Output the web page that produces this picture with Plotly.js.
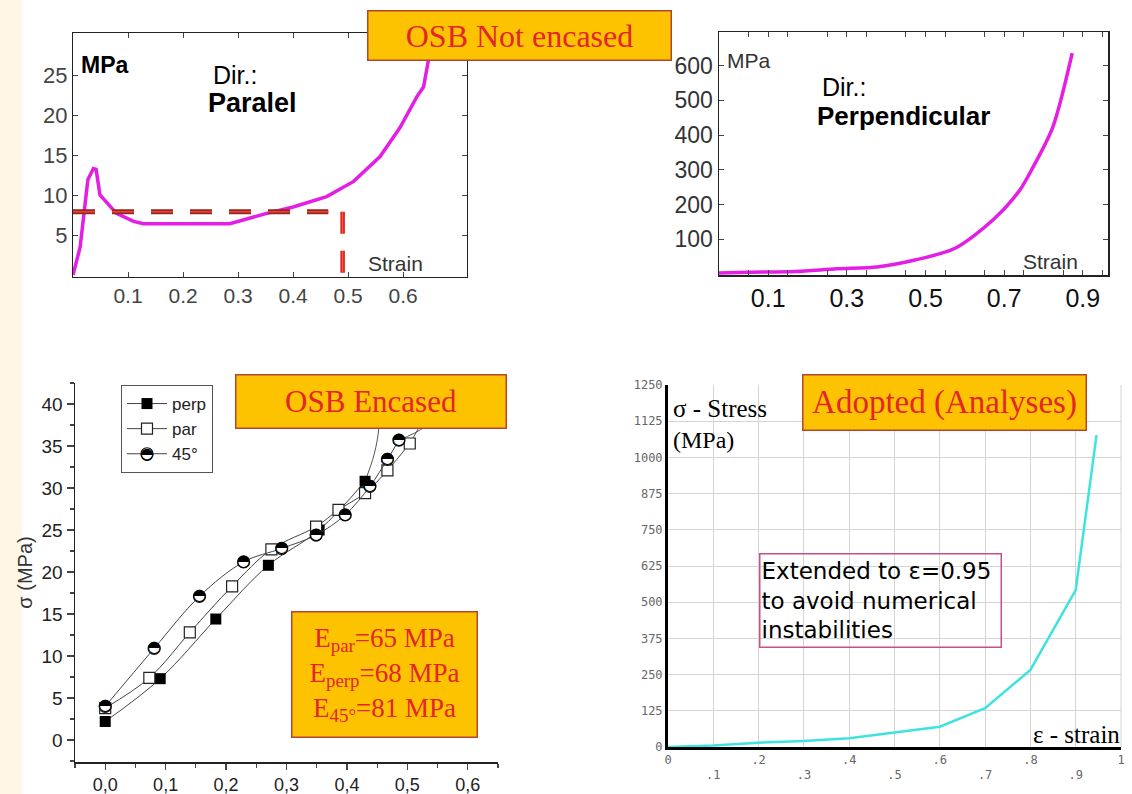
<!DOCTYPE html>
<html>
<head>
<meta charset="utf-8">
<script src="https://cdn.plot.ly/plotly-3.0.1.min.js"></script>
<style>html,body{margin:0;padding:0;background:#fff;}#chart{width:1132px;height:794px;}</style>
</head>
<body>
<div id="chart"></div>
<script>
// ---------- DATA ----------
// Panel 1: OSB not encased, parallel direction
const parStrain = [0, 0.013, 0.027, 0.037, 0.042, 0.049, 0.079, 0.11, 0.128, 0.2, 0.285, 0.352, 0.4, 0.461, 0.51, 0.558, 0.594, 0.625, 0.637, 0.646, 0.652];
const parStress = [0, 3.5, 11.9, 13.3, 13.2, 10, 7.7, 6.7, 6.4, 6.4, 6.4, 7.7, 8.5, 9.8, 11.7, 14.8, 18.4, 22.3, 23.5, 26.9, 31];
const plateauStress = 7.9;
const plateauEndStrain = 0.464;
const densifStrain = 0.49;
const p1XTicks = [0.1, 0.2, 0.3, 0.4, 0.5, 0.6];
const p1YTicks = [5, 10, 15, 20, 25];

// Panel 2: OSB not encased, perpendicular direction
const perpStrain = [-0.025, 0.05, 0.17, 0.275, 0.377, 0.473, 0.575, 0.672, 0.74, 0.774, 0.824, 0.873];
const perpStress = [3, 5, 7, 15, 20, 40, 74, 156, 242, 309, 424, 636];
const p2XTicks = [0.1, 0.3, 0.5, 0.7, 0.9];
const p2YTicks = [100, 200, 300, 400, 500, 600];

// Panel 3: OSB encased
const encPerpX = [0.0, 0.091, 0.183, 0.27, 0.354, 0.43];
const encPerpY = [2.2, 7.3, 14.4, 20.8, 25.0, 30.8];
const encPerpTailX = [0.445, 0.453, 0.452];
const encPerpTailY = [34, 37.3, 43];
const encParX = [0.0, 0.073, 0.14, 0.21, 0.275, 0.349, 0.386, 0.43, 0.467, 0.504];
const encParY = [3.8, 7.4, 12.8, 18.3, 22.7, 25.4, 27.4, 29.4, 32.1, 35.3];
const encParTailX = [0.52, 0.54];
const encParTailY = [37.3, 40];
const enc45X = [0.0, 0.081, 0.156, 0.229, 0.292, 0.349, 0.397, 0.438, 0.467, 0.486];
const enc45Y = [4.0, 10.9, 17.1, 21.2, 22.8, 24.4, 26.8, 30.2, 33.4, 35.7];
const enc45TailX = [0.529, 0.56];
const enc45TailY = [37.3, 40];
const p3XTicks = [0, 0.1, 0.2, 0.3, 0.4, 0.5, 0.6];
const p3XLabels = ['0,0', '0,1', '0,2', '0,3', '0,4', '0,5', '0,6'];
const seriesNames = ['perp', 'par', '45°'];

// Panel 4: adopted curve
const adoptStrain = [0, 0.1, 0.2, 0.3, 0.4, 0.5, 0.6, 0.7, 0.8, 0.9, 0.946];
const adoptStress = [0, 5, 15, 21, 30, 49, 70, 134, 266, 542, 1077];
const p4YTicks = [0, 125, 250, 375, 500, 625, 750, 875, 1000, 1125, 1250];
const p4XEven = [0, 0.2, 0.4, 0.6, 0.8, 1.0];
const p4XEvenLabels = ['0', '.2', '.4', '.6', '.8', '1'];
const p4XOdd = [0.1, 0.3, 0.5, 0.7, 0.9];
const p4XOddLabels = ['.1', '.3', '.5', '.7', '.9'];

// ---------- LAYOUT HELPERS ----------
const W = 1132, H = 794;
const fx = p => p / W;
const fy = p => 1 - p / H;

const magenta = '#e41ee4';
const boxFill = '#fdc300';
const boxBorder = '#b5452f';
const boxText = '#e3262b';
const serif = 'Liberation Serif, Times New Roman, serif';
const sans = 'Liberation Sans, Arial, sans-serif';
const halfCircle = '◓';

const traces = [
  // Panel 1
  {x: parStrain, y: parStress, xaxis: 'x', yaxis: 'y', mode: 'lines', line: {color: magenta, width: 3.5}, showlegend: false},
  {x: [0, plateauEndStrain], y: [plateauStress, plateauStress], xaxis: 'x', yaxis: 'y', mode: 'lines', line: {color: '#8e2a22', width: 5, dash: '22px,17px'}, showlegend: false},
  {x: [0, plateauEndStrain], y: [plateauStress, plateauStress], xaxis: 'x', yaxis: 'y', mode: 'lines', line: {color: '#ff3a30', width: 1.5, dash: '22px,17px'}, showlegend: false},
  {x: [densifStrain, densifStrain], y: [plateauStress, 0], xaxis: 'x', yaxis: 'y', mode: 'lines', line: {color: '#d8201c', width: 4.5, dash: '22px,17px'}, showlegend: false},
  {x: [densifStrain, densifStrain], y: [plateauStress, 0], xaxis: 'x', yaxis: 'y', mode: 'lines', line: {color: '#ff6a5a', width: 1, dash: '22px,17px'}, showlegend: false},
  // Panel 2
  {x: perpStrain, y: perpStress, xaxis: 'x2', yaxis: 'y2', mode: 'lines', line: {color: magenta, width: 3.5, shape: 'spline', smoothing: 0.8}, showlegend: false},
  // Panel 3 tails
  {x: [encPerpX[encPerpX.length - 1]].concat(encPerpTailX), y: [encPerpY[encPerpY.length - 1]].concat(encPerpTailY), xaxis: 'x3', yaxis: 'y3', mode: 'lines', line: {color: '#555', width: 1, shape: 'spline'}, showlegend: false},
  {x: [encParX[encParX.length - 1]].concat(encParTailX), y: [encParY[encParY.length - 1]].concat(encParTailY), xaxis: 'x3', yaxis: 'y3', mode: 'lines', line: {color: '#555', width: 1, shape: 'spline'}, showlegend: false},
  {x: [enc45X[enc45X.length - 1]].concat(enc45TailX), y: [enc45Y[enc45Y.length - 1]].concat(enc45TailY), xaxis: 'x3', yaxis: 'y3', mode: 'lines', line: {color: '#555', width: 1, shape: 'spline'}, showlegend: false},
  // Panel 3 series
  {x: encPerpX, y: encPerpY, name: seriesNames[0], xaxis: 'x3', yaxis: 'y3', mode: 'lines+markers', line: {color: '#444', width: 1, shape: 'spline'}, marker: {symbol: 'square', size: 11, color: '#000'}},
  {x: encParX, y: encParY, name: seriesNames[1], xaxis: 'x3', yaxis: 'y3', mode: 'lines+markers', line: {color: '#444', width: 1, shape: 'spline'}, marker: {symbol: 'square', size: 11, color: '#fff', line: {color: '#222', width: 1.2}}},
  {x: enc45X, y: enc45Y, name: seriesNames[2], xaxis: 'x3', yaxis: 'y3', mode: 'lines+markers', line: {color: '#444', width: 1, shape: 'spline'}, marker: {symbol: 'circle', size: 12, color: '#fff', line: {color: '#111', width: 1.2}}},
  {x: enc45X, y: enc45Y, xaxis: 'x3', yaxis: 'y3', mode: 'text', text: enc45X.map(() => halfCircle), textposition: 'middle center', textfont: {family: 'DejaVu Sans', size: 16, color: '#000'}, showlegend: false},
  // Panel 4
  {x: adoptStrain, y: adoptStress, xaxis: 'x4', yaxis: 'y4', mode: 'lines', line: {color: '#3fe3dd', width: 2.5}, showlegend: false},
  {x: [null], y: [null], xaxis: 'x5', yaxis: 'y4', mode: 'lines', showlegend: false}
];

const annotations = [
  // Panel 1 texts
  {xref: 'paper', yref: 'paper', x: fx(79), y: fy(65), xanchor: 'left', yanchor: 'middle', text: '<b>MPa</b>', showarrow: false, font: {family: sans, size: 23, color: '#000'}},
  {xref: 'paper', yref: 'paper', x: fx(211), y: fy(75), xanchor: 'left', yanchor: 'middle', text: 'Dir.:', showarrow: false, font: {family: sans, size: 25, color: '#000'}},
  {xref: 'paper', yref: 'paper', x: fx(206), y: fy(103), xanchor: 'left', yanchor: 'middle', text: '<b>Paralel</b>', showarrow: false, font: {family: sans, size: 27, color: '#000'}},
  {xref: 'paper', yref: 'paper', x: fx(366), y: fy(263), xanchor: 'left', yanchor: 'middle', text: 'Strain', showarrow: false, font: {family: sans, size: 21, color: '#333'}},
  // Panel 2 texts
  {xref: 'paper', yref: 'paper', x: fx(725), y: fy(61), xanchor: 'left', yanchor: 'middle', text: 'MPa', showarrow: false, font: {family: sans, size: 21, color: '#333'}},
  {xref: 'paper', yref: 'paper', x: fx(820), y: fy(87), xanchor: 'left', yanchor: 'middle', text: 'Dir.:', showarrow: false, font: {family: sans, size: 25, color: '#000'}},
  {xref: 'paper', yref: 'paper', x: fx(815), y: fy(116), xanchor: 'left', yanchor: 'middle', text: '<b>Perpendicular</b>', showarrow: false, font: {family: sans, size: 26, color: '#000'}},
  {xref: 'paper', yref: 'paper', x: fx(1021), y: fy(261), xanchor: 'left', yanchor: 'middle', text: 'Strain', showarrow: false, font: {family: sans, size: 21, color: '#333'}},
  // Title boxes
  {xref: 'paper', yref: 'paper', x: fx(519), y: fy(35), xanchor: 'center', yanchor: 'middle', text: 'OSB Not encased', showarrow: false,
   font: {family: serif, size: 32, color: boxText}, bgcolor: boxFill, bordercolor: boxBorder, borderwidth: 1.5, borderpad: 1, width: 300, height: 46},
  {xref: 'paper', yref: 'paper', x: fx(371), y: fy(401), xanchor: 'center', yanchor: 'middle', text: 'OSB Encased', showarrow: false,
   font: {family: serif, size: 31, color: boxText}, bgcolor: boxFill, bordercolor: boxBorder, borderwidth: 1.5, borderpad: 1, width: 267, height: 50},
  {xref: 'paper', yref: 'paper', x: fx(384), y: fy(674), xanchor: 'center', yanchor: 'middle',
   text: 'E<sub>par</sub>=65 MPa<br>E<sub>perp</sub>=68 MPa<br>E<sub>45°</sub>=81 MPa', showarrow: false,
   font: {family: serif, size: 27, color: boxText}, bgcolor: boxFill, bordercolor: boxBorder, borderwidth: 1.5, borderpad: 1, width: 182, height: 122},
  {xref: 'paper', yref: 'paper', x: fx(944), y: fy(402), xanchor: 'center', yanchor: 'middle', text: 'Adopted (Analyses)', showarrow: false,
   font: {family: serif, size: 33, color: boxText}, bgcolor: boxFill, bordercolor: boxBorder, borderwidth: 1.5, borderpad: 1, width: 280, height: 52},
  // Panel 4 texts
  {xref: 'paper', yref: 'paper', x: fx(671), y: fy(408), xanchor: 'left', yanchor: 'middle', text: 'σ - Stress', showarrow: false, font: {family: serif, size: 25, color: '#000'}},
  {xref: 'paper', yref: 'paper', x: fx(671), y: fy(440), xanchor: 'left', yanchor: 'middle', text: '(MPa)', showarrow: false, font: {family: serif, size: 24, color: '#000'}},
  {xref: 'paper', yref: 'paper', x: fx(1122), y: fy(734), xanchor: 'right', yanchor: 'middle', text: 'ε - strain', showarrow: false, font: {family: serif, size: 25, color: '#000'}},
  {xref: 'paper', yref: 'paper', x: fx(880), y: fy(600), xanchor: 'center', yanchor: 'middle', align: 'left',
   text: 'Extended to ε=0.95<br>to avoid numerical<br>instabilities', showarrow: false,
   font: {family: 'DejaVu Sans', size: 23, color: '#000'}, bordercolor: '#c8508a', borderwidth: 1.5, borderpad: 1, width: 238, height: 90},
  // legend half-filled circle glyph (moved onto the legend symbol after drawing)
  {xref: 'paper', yref: 'paper', x: fx(153), y: fy(455), xanchor: 'center', yanchor: 'middle', text: halfCircle, showarrow: false, font: {family: 'DejaVu Sans', size: 16, color: '#000'}}
];

const tick4Font = {family: 'DejaVu Sans Mono', size: 12, color: '#666'};

const layout = {
  width: W, height: H,
  margin: {l: 0, r: 0, t: 0, b: 0},
  paper_bgcolor: '#fff', plot_bgcolor: 'rgba(0,0,0,0)',
  font: {family: sans, color: '#222'},
  showlegend: true,
  legend: {x: fx(121), y: fy(385), xanchor: 'left', yanchor: 'top', bgcolor: '#fff', bordercolor: '#555', borderwidth: 1,
           font: {family: sans, size: 17, color: '#222'}, tracegroupgap: 0, itemwidth: 40, entrywidth: 90},
  // Panel 1
  xaxis: {domain: [fx(73), fx(467)], anchor: 'y', range: [0, 0.716], tickvals: p1XTicks, ticks: 'inside', ticklen: 5, mirror: 'allticks',
          showline: true, linecolor: '#222', linewidth: 1.2, showgrid: false, zeroline: false, tickfont: {size: 21, color: '#444'}},
  yaxis: {domain: [fy(277), fy(33)], anchor: 'x', range: [-0.25, 30.25], tickvals: p1YTicks, ticks: 'inside', ticklen: 5, mirror: 'allticks',
          showline: true, linecolor: '#222', linewidth: 1.2, showgrid: false, zeroline: false, tickfont: {size: 22, color: '#444'}},
  // Panel 2
  xaxis2: {domain: [fx(719), fx(1108)], anchor: 'y2', range: [-0.025, 0.964], tickvals: p2XTicks, ticks: 'inside', ticklen: 5, mirror: 'allticks',
           minor: {tick0: 0.05, dtick: 0.1, ticks: 'inside', ticklen: 5},
           showline: true, linecolor: '#222', linewidth: 1.5, showgrid: false, zeroline: false, tickfont: {size: 25, color: '#111'}},
  yaxis2: {domain: [fy(275), fy(32)], anchor: 'x2', range: [-3, 697], tickvals: p2YTicks, ticks: 'inside', ticklen: 5, mirror: 'allticks',
           showline: true, linecolor: '#222', linewidth: 1.5, showgrid: false, zeroline: false, tickfont: {size: 23, color: '#333'}},
  // Panel 3
  xaxis3: {domain: [fx(75), fx(498)], anchor: 'y3', range: [-0.05, 0.65], tickvals: p3XTicks, ticktext: p3XLabels, ticks: 'outside', ticklen: 6, tickwidth: 1.2,
           minor: {tick0: 0.05, dtick: 0.1, ticks: 'outside', ticklen: 4}, showline: true, linecolor: '#222', linewidth: 1.5,
           showgrid: false, zeroline: false, tickfont: {size: 18, color: '#222'}},
  yaxis3: {domain: [fy(762), fy(383)], anchor: 'x3', range: [-2.62, 42.5], tick0: 0, dtick: 5, ticks: 'outside', ticklen: 7, tickwidth: 1.2,
           minor: {tick0: 2.5, dtick: 5, ticks: 'outside', ticklen: 4}, showline: true, linecolor: '#222', linewidth: 1.5,
           showgrid: false, zeroline: false, tickfont: {size: 19, color: '#222'},
           title: {text: 'σ (MPa)', font: {size: 20, color: '#333'}, standoff: 3}},
  // Panel 4
  xaxis4: {domain: [fx(668), fx(1121)], anchor: 'y4', range: [0, 1.0], tickvals: p4XEven, ticktext: p4XEvenLabels, ticks: '',
           showgrid: true, gridcolor: '#d4d4d4', gridwidth: 1, zeroline: false, showline: true, linecolor: '#000', linewidth: 3, tickfont: tick4Font},
  xaxis5: {domain: [fx(668), fx(1121)], anchor: 'y4', overlaying: 'x4', range: [0, 1.0], tickvals: p4XOdd, ticktext: p4XOddLabels, ticks: '',
           showgrid: true, gridcolor: '#d4d4d4', gridwidth: 1, zeroline: false, showline: false, ticklabelstandoff: 19, tickfont: tick4Font},
  yaxis4: {domain: [fy(747), fy(385)], anchor: 'x4', range: [0, 1250], tickvals: p4YTicks, ticks: '',
           showgrid: true, gridcolor: '#d4d4d4', gridwidth: 1, zeroline: false, showline: true, linecolor: '#000', linewidth: 3, tickfont: tick4Font},
  shapes: [
    {type: 'rect', xref: 'paper', yref: 'paper', x0: 0, x1: fx(22), y0: 0, y1: 1, fillcolor: '#fff6e6', line: {width: 0}, layer: 'below'},
    {type: 'line', xref: 'paper', yref: 'paper', x0: fx(1121), x1: fx(1121), y0: fy(747), y1: fy(385), line: {color: '#d4d4d4', width: 1}, layer: 'below'}
  ],
  annotations: annotations
};

Plotly.newPlot('chart', traces, layout, {displayModeBar: false, staticPlot: true}).then(gd => {
  // place the half-filled glyph on the 45° legend symbol
  const items = gd.querySelectorAll('.legend .traces');
  if (items.length >= 3) {
    const pt = items[2].querySelector('.legendpoints path.scatterpts') || items[2].querySelector('.legendpoints .scatterpts path') || items[2].querySelector('.legendpoints path');
    const el = pt || items[2];
    const r = el.getBoundingClientRect();
    const box = gd.getBoundingClientRect();
    const cx = r.left + r.width / 2 - box.left;
    const cy = r.top + r.height / 2 - box.top;
    const idx = annotations.length - 1;
    const upd = {};
    upd['annotations[' + idx + '].x'] = fx(cx);
    upd['annotations[' + idx + '].y'] = fy(cy);
    Plotly.relayout(gd, upd);
  }
});
</script>
</body>
</html>
